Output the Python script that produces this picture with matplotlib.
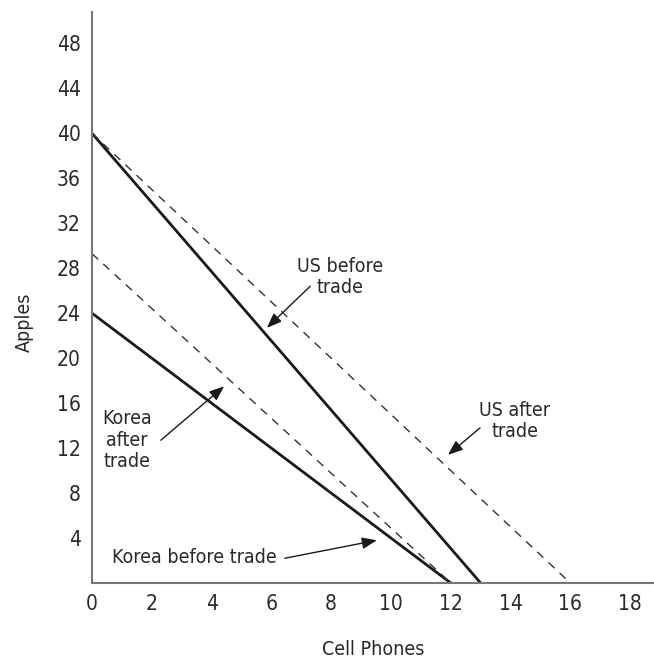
import matplotlib
matplotlib.use("Agg")
import matplotlib.pyplot as plt

plt.rcParams['font.family'] = ['DejaVu Sans']
plt.rcParams['font.stretch'] = 'condensed'

# Data: production possibility frontiers (x = cell phones, y = apples)
us_before_x = [0, 13]
us_before_y = [40, 0]
korea_before_x = [0, 12]
korea_before_y = [24, 0]
us_after_x = [0, 16]
us_after_y = [40, 0]
korea_after_x = [0, 12]
korea_after_y = [29.3, 0]

x_ticks = [0, 2, 4, 6, 8, 10, 12, 14, 16, 18]
y_ticks = [4, 8, 12, 16, 20, 24, 28, 32, 36, 40, 44, 48]

# annotations: (text, text position, arrow tail, arrow tip)
labels = ["US before\ntrade", "US after\ntrade", "Korea\nafter\ntrade", "Korea before trade"]
label_pos = [(8.29, 27.2), (14.15, 14.4), (1.17, 12.7), (3.44, 2.3)]
arrow_tail = [(7.3, 26.4), (12.98, 13.8), (2.3, 12.7), (6.45, 2.2)]
arrow_tip = [(5.85, 22.7), (11.91, 11.4), (4.42, 17.5), (9.53, 3.8)]

fig = plt.figure(figsize=(6.54, 6.64), dpi=100)
ax = fig.add_axes([0.1407, 0.122, 0.8593, 0.860])

ink = '#1a1a1a'
ax.plot(us_before_x, us_before_y, color=ink, lw=2.0, solid_capstyle='butt')
ax.plot(korea_before_x, korea_before_y, color=ink, lw=2.0, solid_capstyle='butt')
ax.plot(us_after_x, us_after_y, color='#333333', lw=1.0, dashes=(6, 5))
ax.plot(korea_after_x, korea_after_y, color='#333333', lw=1.0, dashes=(6, 5))

for txt, pos, tail, tip in zip(labels, label_pos, arrow_tail, arrow_tip):
    ax.text(pos[0], pos[1], txt, ha='center', va='center', fontsize=14,
            color='#2a2a2a', linespacing=1.15)
    ax.annotate('', xy=tip, xytext=tail,
                arrowprops=dict(arrowstyle='-|>,head_length=0.9,head_width=0.35',
                                color=ink, lw=1.0, shrinkA=0, shrinkB=0))

ax.set_xlim(0, 18.8)
ax.set_ylim(0, 50.8)
ax.set_xticks(x_ticks)
ax.set_yticks(y_ticks)
ax.tick_params(length=0, labelsize=15, colors='#2a2a2a', pad=8)
for s in ['top', 'right']:
    ax.spines[s].set_visible(False)
for s in ['left', 'bottom']:
    ax.spines[s].set_color('#777777')
    ax.spines[s].set_linewidth(1.5)

ax.set_xlabel('Cell Phones', fontsize=14, color='#2a2a2a')
ax.set_ylabel('Apples', fontsize=14, color='#2a2a2a')
ax.xaxis.set_label_coords(0.50, -0.10)
ax.yaxis.set_label_coords(-0.103, 0.457)

fig.savefig('out.png', dpi=100)
